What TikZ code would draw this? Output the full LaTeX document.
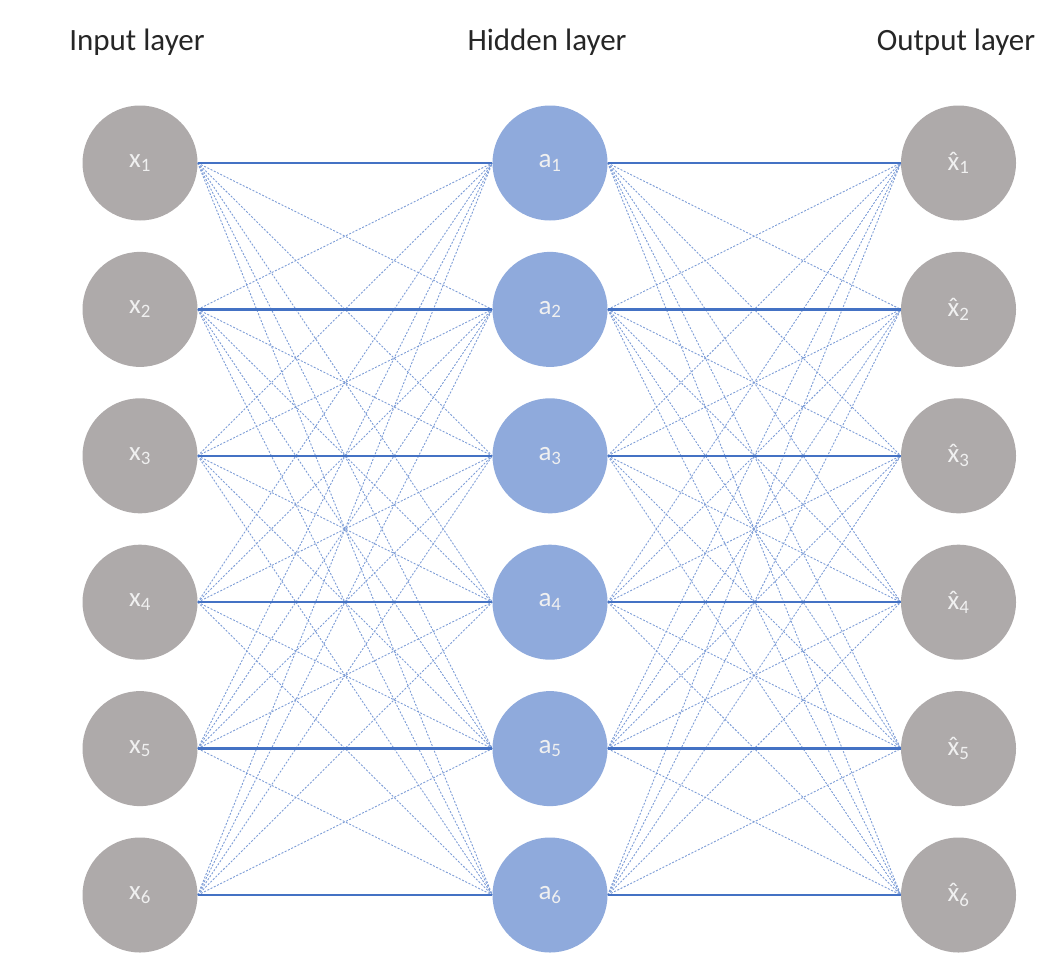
\documentclass[tikz,border=0pt]{standalone}
\usepackage{fontspec}
\setmainfont{Carlito}
\definecolor{nodegray}{HTML}{AEAAAA}
\definecolor{nodeblue}{HTML}{8FAADC}
\definecolor{lineblue}{HTML}{4472C4}
\definecolor{labelwhite}{HTML}{F0F0F0}
\newcommand{\xhatsym}{\accent"02C6 x}
\begin{document}
\begin{tikzpicture}[x=1pt,y=-1pt,
  neuron/.style={circle,minimum size=115pt,inner sep=0pt,font=\fontsize{27}{30}\selectfont,text=labelwhite},
  graynode/.style={neuron,fill=nodegray},
  bluenode/.style={neuron,fill=nodeblue},
  layerlabel/.style={font=\fontsize{31}{36}\selectfont,text=black!85},
  strong/.style={draw=lineblue,line width=2.4pt},
  weak/.style={draw=lineblue!70,line width=0.9pt,dash pattern=on 2pt off 1.6pt}]
\useasboundingbox (0,0) rectangle (1054,974);
\node[layerlabel] (lin) at (137,42) {Input layer};
\node[layerlabel] (lhid) at (547,42) {Hidden layer};
\node[layerlabel] (lout) at (956,42) {Output layer};
\foreach \i in {1,...,6}{
  \pgfmathsetmacro{\yy}{163+146.4*(\i-1)}
  \node[graynode] (x\i) at (140,\yy) {x\textsubscript{\i}};
  \node[bluenode] (a\i) at (550,\yy) {a\textsubscript{\i}};
  \node[graynode] (o\i) at (958.5,\yy) {\xhatsym\textsubscript{\i}};
}
\foreach \i in {1,...,6}{
  \foreach \j in {1,...,6}{
    \ifnum\i=\j\else
      \draw[weak] (x\i.east) -- (a\j.west);
      \draw[weak] (a\i.east) -- (o\j.west);
    \fi
  }
}
\foreach \i in {1,...,6}{
  \draw[strong] (x\i.east) -- (a\i.west);
  \draw[strong] (a\i.east) -- (o\i.west);
}
\end{tikzpicture}
\end{document}
